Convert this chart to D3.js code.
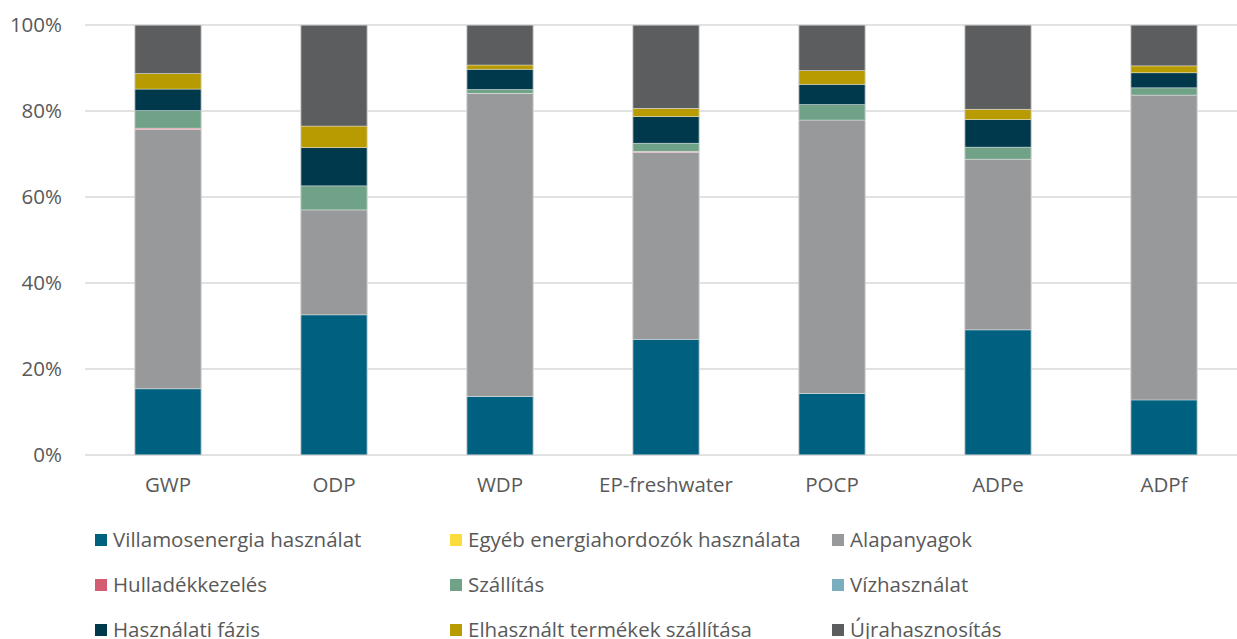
<!DOCTYPE html>
<html>
<head>
<meta charset="utf-8">
<script src="https://cdn.jsdelivr.net/npm/d3@7/dist/d3.min.js"></script>
<style>
  body { margin: 0; background: #fff; }
  text { font-family: "Open Sans", "Noto Sans", sans-serif; fill: #595959; }
</style>
</head>
<body>
<svg id="chart" width="1237" height="639"></svg>
<script>
// categories on the x axis
const categories = ['GWP', 'ODP', 'WDP', 'EP-freshwater', 'POCP', 'ADPe', 'ADPf'];

// series names (stack order, bottom -> top)
const seriesNames = [
  'Villamosenergia használat',
  'Egyéb energiahordozók használata',
  'Alapanyagok',
  'Hulladékkezelés',
  'Szállítás',
  'Vízhasználat',
  'Használati fázis',
  'Elhasznált termékek szállítása',
  'Újrahasznosítás'
];

// shares in %, one value per category
const villamos   = [15.4, 32.6, 13.6, 26.9, 14.3, 29.1, 12.8];
const egyeb      = [0, 0, 0, 0, 0, 0, 0];
const alapanyag  = [60.3, 24.4, 70.5, 43.5, 63.6, 39.7, 70.9];
const hulladek   = [0.3, 0, 0, 0.2, 0, 0, 0];
const szallitas  = [4.1, 5.6, 0.9, 1.9, 3.6, 2.8, 1.7];
const viz        = [0, 0, 0, 0, 0, 0, 0];
const hasznalati = [5.0, 8.9, 4.7, 6.2, 4.7, 6.4, 3.5];
const elhasznalt = [3.6, 5.0, 1.0, 1.9, 3.2, 2.4, 1.6];
const ujra       = [11.3, 23.5, 9.3, 19.4, 10.6, 19.6, 9.5];

const yTicks = [0, 20, 40, 60, 80, 100];

const seriesValues = [villamos, egyeb, alapanyag, hulladek, szallitas, viz, hasznalati, elhasznalt, ujra];
const colors = ['#00607f', '#fbdc3c', '#98999b', '#d45c72', '#6fa286', '#7aaebf', '#00394c', '#b89b00', '#5c5d5f'];

const svg = d3.select('#chart');
const margin = { left: 85, right: -10, top: 25, bottom: 184 };
const width = 1237, height = 639;
const fontSize = '20.5px';

// build rows for d3.stack
const rows = categories.map((c, i) => {
  const r = { cat: c };
  seriesNames.forEach((s, j) => { r[s] = seriesValues[j][i]; });
  return r;
});

const stacked = d3.stack().keys(seriesNames)(rows);

const x = d3.scaleBand()
  .domain(categories)
  .range([margin.left, width - margin.right])
  .paddingInner(0.6)
  .paddingOuter(0.3);

const y = d3.scaleLinear()
  .domain([0, 100])
  .range([height - margin.bottom, margin.top]);

// gridlines
svg.append('g')
  .selectAll('line')
  .data(yTicks)
  .enter().append('line')
  .attr('x1', margin.left)
  .attr('x2', width)
  .attr('y1', d => y(d))
  .attr('y2', d => y(d))
  .style('stroke', '#d9d9d9')
  .style('stroke-width', 1.5);

// y axis labels
const yAxis = d3.axisLeft(y).tickValues(yTicks).tickFormat(d => d + '%').tickSize(0).tickPadding(0);
svg.append('g')
  .attr('transform', `translate(62, 0)`)
  .call(yAxis)
  .call(g => g.select('.domain').remove())
  .call(g => g.selectAll('text')
    .style('font-size', fontSize)
    .style('font-family', '"Open Sans", sans-serif')
    .attr('fill', '#595959'));

// bars
const layers = svg.append('g')
  .selectAll('g')
  .data(stacked)
  .enter().append('g')
  .style('fill', (d, i) => colors[i]);

layers.selectAll('rect')
  .data(d => d.map(v => ({ lo: v[0], hi: v[1], cat: v.data.cat })))
  .enter().append('rect')
  .filter(d => d.hi - d.lo > 0)
  .attr('x', d => x(d.cat))
  .attr('width', x.bandwidth())
  .attr('y', d => y(d.hi))
  .attr('height', d => y(d.lo) - y(d.hi))
  .style('stroke', '#ffffff')
  .style('stroke-opacity', 0.45)
  .style('stroke-width', 0.8);

// bar outline
svg.append('g')
  .selectAll('rect')
  .data(categories)
  .enter().append('rect')
  .attr('x', d => x(d))
  .attr('width', x.bandwidth())
  .attr('y', y(100))
  .attr('height', y(0) - y(100))
  .style('fill', 'none')
  .style('stroke', '#cfcfcf')
  .style('stroke-width', 0.8);

// x axis labels
const xAxis = d3.axisBottom(x).tickSize(0).tickPadding(0);
svg.append('g')
  .attr('transform', `translate(0, ${y(0) + 22})`)
  .call(xAxis)
  .call(g => g.select('.domain').remove())
  .call(g => g.selectAll('text')
    .style('font-size', fontSize)
    .style('font-family', '"Open Sans", sans-serif')
    .attr('fill', '#595959'));

// legend
const legendCols = [95, 450, 832];
const legendRows = [540, 585, 630];
const legend = svg.append('g')
  .selectAll('g')
  .data(seriesNames)
  .enter().append('g')
  .attr('transform', (d, i) => `translate(${legendCols[i % 3]}, ${legendRows[Math.floor(i / 3)]})`);

legend.append('rect')
  .attr('x', 0)
  .attr('y', -6)
  .attr('width', 12)
  .attr('height', 12)
  .style('fill', (d, i) => colors[i]);

legend.append('text')
  .attr('x', 18)
  .attr('y', 0)
  .attr('dy', '0.35em')
  .style('font-size', fontSize)
  .text(d => d);
</script>
</body>
</html>
